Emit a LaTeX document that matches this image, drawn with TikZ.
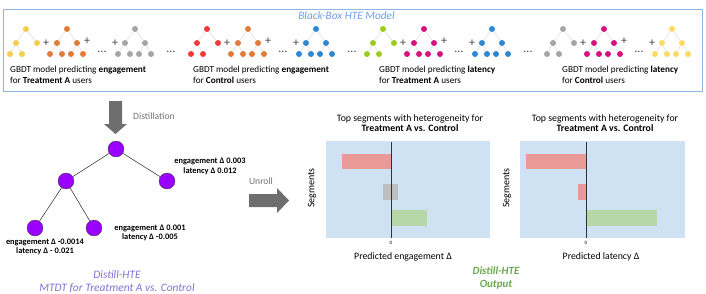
\documentclass[tikz,border=0pt]{standalone}
\usepackage{fontspec}
\setmainfont{Carlito}
\usepackage{tikz}
\usetikzlibrary{arrows.meta,positioning,calc}
\usepackage{xcolor}

\definecolor{boxblue}{HTML}{8DB4E2}
\definecolor{titleblue}{HTML}{6D9EEB}
\definecolor{chartbg}{HTML}{CFE2F3}
\definecolor{barred}{HTML}{EA9999}
\definecolor{bargrey}{HTML}{BFBFBF}
\definecolor{bargreen}{HTML}{B6D7A8}
\definecolor{mtdtviolet}{HTML}{9900FF}
\definecolor{mtdttext}{HTML}{8470D6}
\definecolor{outgreen}{HTML}{6AA84F}
\definecolor{arrowgrey}{HTML}{6E6E6E}
\definecolor{ylwA}{HTML}{F4CC4E}
\definecolor{ylwB}{HTML}{FFD966}
\definecolor{orng}{HTML}{E07B39}
\definecolor{gry}{HTML}{A5A5A5}
\definecolor{redd}{HTML}{F03B3B}
\definecolor{blu}{HTML}{2F86D1}
\definecolor{grn}{HTML}{9BCB1E}
\definecolor{mgnt}{HTML}{D6127F}

% small GBDT trees: name, root x, colour
\newcommand{\treeUnbal}[3]{%
  \node[dot, fill=#3] (#1r) at (#2,29) {};
  \node[dot, fill=#3] (#1a) at (#2-10,43) {};
  \node[dot, fill=#3] (#1b) at (#2+11,43) {};
  \node[dot, fill=#3] (#1c) at (#2-16,54) {};
  \node[dot, fill=#3] (#1d) at (#2-4,54) {};
  \draw[twig] (#1r)--(#1a) (#1r)--(#1b) (#1a)--(#1c) (#1a)--(#1d);
}
\newcommand{\treeFull}[3]{%
  \node[dot, fill=#3] (#1r) at (#2,29) {};
  \node[dot, fill=#3] (#1a) at (#2-10,43) {};
  \node[dot, fill=#3] (#1b) at (#2+10,43) {};
  \node[dot, fill=#3] (#1c) at (#2-17,54) {};
  \node[dot, fill=#3] (#1d) at (#2-5,54) {};
  \node[dot, fill=#3] (#1e) at (#2+4,54) {};
  \node[dot, fill=#3] (#1f) at (#2+16,54) {};
  \draw[twig] (#1r)--(#1a) (#1r)--(#1b) (#1a)--(#1c) (#1a)--(#1d) (#1b)--(#1e) (#1b)--(#1f);
}

\begin{document}
\begin{tikzpicture}[x=1pt, y=-1pt, every node/.style={font=\fontsize{9.6}{11.5}\selectfont}]
\tikzset{dot/.style={circle, draw=none, minimum size=6, inner sep=0pt}}
\tikzset{twig/.style={draw=gray!25, line width=0.6pt}}
\tikzset{op/.style={font=\fontsize{12}{12}\selectfont, text=black!75, inner sep=0pt}}
\tikzset{mtdt/.style={draw=black!70, circle, minimum size=16, fill=mtdtviolet, inner sep=0pt}}
\tikzset{delta/.style={font=\fontsize{8.4}{9.6}\selectfont\bfseries, align=center, inner sep=0pt}}
\tikzset{captext/.style={align=center, inner sep=0pt}}
\useasboundingbox (0,0) rectangle (706,293);

% black-box model
\draw[boxblue, line width=0.8pt] (3,9) rectangle (702,91);
\node[font=\fontsize{11.3}{13}\selectfont\itshape, text=titleblue, inner sep=0pt] (bbox) at (346.5,16) {Black-Box HTE Model};
\foreach \o/\ca/\cb/\cc/\n in {0/ylwA/orng/gry/1, 181/redd/orng/blu/2, 357/grn/mgnt/blu/3, 537/gry/mgnt/ylwB/4} {
  \treeUnbal{g\n a}{\o+26}{\ca}
  \treeFull{g\n b}{\o+67}{\cb}
  \treeFull{g\n c}{\o+135}{\cc}
  \node[op] (g\n p1) at (\o+46,43) {+};
  \node[op] (g\n p2) at (\o+87,41) {+};
  \node[op] (g\n d1) at (\o+102,52) {...};
  \node[op] (g\n p3) at (\o+115,43) {+};
}
\node[op] (g1d2) at (171,52) {...};
\node[op] (g2d2) at (352,52) {...};
\node[op] (g3d2) at (528,52) {...};
\node[anchor=west, align=left, inner sep=0pt, font=\fontsize{9.2}{10.5}\selectfont] (t1) at (10,75) {GBDT model predicting \textbf{engagement}\\for \textbf{Treatment A} users};
\node[anchor=west, align=left, inner sep=0pt, font=\fontsize{9.2}{10.5}\selectfont] (t2) at (193,75) {GBDT model predicting \textbf{engagement}\\for \textbf{Control} users};
\node[anchor=west, align=left, inner sep=0pt, font=\fontsize{9.2}{10.5}\selectfont] (t3) at (379,75) {GBDT model predicting \textbf{latency}\\for \textbf{Treatment A} users};
\node[anchor=west, align=left, inner sep=0pt, font=\fontsize{9.2}{10.5}\selectfont] (t4) at (562,75) {GBDT model predicting \textbf{latency}\\for \textbf{Control} users};

% distillation and unroll arrows
\fill[arrowgrey] (109,101) -- (122,101) -- (122,124) -- (127,124) -- (115.5,134) -- (104,124) -- (109,124) -- cycle;
\node[anchor=west, text=black!55, inner sep=0pt] (dist) at (133,116) {Distillation};
\fill[arrowgrey] (249,194) -- (277,194) -- (277,188) -- (289,200.5) -- (277,213) -- (277,207) -- (249,207) -- cycle;
\node[text=black!55, inner sep=0pt] (unroll) at (261,181) {Unroll};

% multi-task distilled tree
\node[mtdt] (root) at (116,149) {};
\node[mtdt] (nl) at (66,181) {};
\node[mtdt] (nr) at (167,181) {};
\node[mtdt] (nll) at (35,228) {};
\node[mtdt] (nlr) at (94,228) {};
\draw[black!75, line width=0.6pt] (root)--(nl) (root)--(nr) (nl)--(nll) (nl)--(nlr);
\node[delta] (dr) at (210,166.5) {engagement Δ 0.003\\latency Δ 0.012};
\node[delta] (dlr) at (150,233) {engagement Δ 0.001\\latency Δ -0.005};
\node[delta] (dll) at (45,247) {engagement Δ -0.0014\\latency Δ - 0.021};
\node[captext, font=\fontsize{11.4}{13}\selectfont\itshape, text=mtdttext] (mtdtcap) at (117,281.5) {Distill-HTE\\MTDT for Treatment A vs. Control};

% engagement chart
\fill[chartbg] (326,141) rectangle (490,238);
\fill[barred] (342,154) rectangle (391,169);
\fill[bargrey] (383,184) rectangle (398,200);
\fill[bargreen] (392,210) rectangle (427,226);
\draw[black!80, line width=0.6pt] (391,142) -- (391,238);
\node[captext, font=\fontsize{9.8}{10.5}\selectfont] (ttlE) at (410,123) {Top segments with heterogeneity for\\\textbf{Treatment A vs. Control}};
\node[rotate=90, inner sep=0pt, font=\fontsize{10}{12}\selectfont] (segE) at (312,188) {Segments};
\node[font=\fontsize{5}{6}\selectfont, inner sep=0pt] (zeroE) at (391,242.5) {0};
\node[inner sep=0pt, font=\fontsize{9.8}{12}\selectfont] (axE) at (403,257) {Predicted engagement Δ};

% latency chart
\fill[chartbg] (520,141) rectangle (685,238);
\fill[barred] (526,154) rectangle (586,169);
\fill[barred] (578,184) rectangle (586,200);
\fill[bargreen] (587,210) rectangle (657,226);
\draw[black!80, line width=0.6pt] (586,142) -- (586,238);
\node[captext, font=\fontsize{9.8}{10.5}\selectfont] (ttlL) at (605,123) {Top segments with heterogeneity for\\\textbf{Treatment A vs. Control}};
\node[rotate=90, inner sep=0pt, font=\fontsize{10}{12}\selectfont] (segL) at (507,188) {Segments};
\node[font=\fontsize{5}{6}\selectfont, inner sep=0pt] (zeroL) at (586,242.5) {0};
\node[inner sep=0pt, font=\fontsize{9.8}{12}\selectfont] (axL) at (601,257) {Predicted latency Δ};

\node[captext, font=\fontsize{11}{13}\selectfont\bfseries\itshape, text=outgreen] (outcap) at (496,277.5) {Distill-HTE\\Output};
\end{tikzpicture}
\end{document}
